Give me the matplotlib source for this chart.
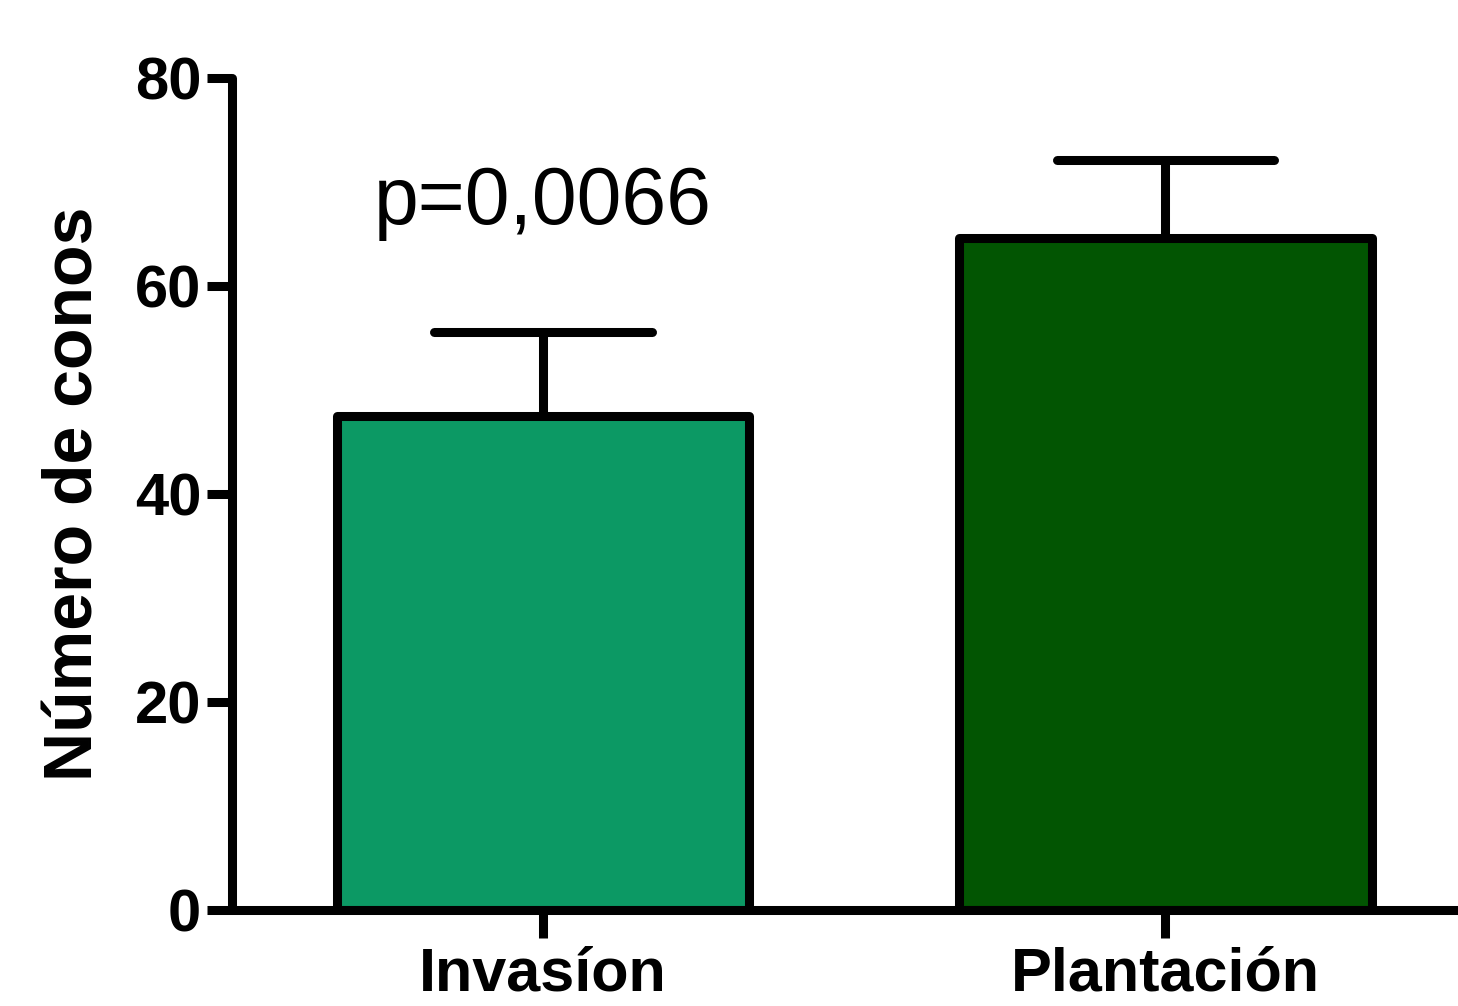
import matplotlib
matplotlib.use("Agg")
import matplotlib.pyplot as plt

# data
groups = ["Invasíon", "Plantación"]
means = [47.5, 64.6]
sem = [8.1, 7.5]
bar_colors = ["#0C9964", "#025502"]
p_text = "p=0,0066"

plt.rcParams['font.family'] = ['Liberation Sans', 'DejaVu Sans']

fig = plt.figure(figsize=(14.58, 10.06), dpi=100)
ax = fig.add_axes([0.159, 0.0954, 0.841, 0.8271])

lw = 6.5
x = list(range(len(groups)))
bar_w = 0.663
cap_half = 0.175

# upper-only error bars (Prism style)
tops = [m + e for m, e in zip(means, sem)]
ax.vlines(x, means, tops, color="black", linewidth=lw, zorder=1)
ax.hlines(tops, [xi - cap_half for xi in x], [xi + cap_half for xi in x],
          color="black", linewidth=lw, zorder=1, capstyle="round")

bars = ax.bar(x, means, width=bar_w, color=bar_colors, edgecolor="black",
              linewidth=lw, zorder=2)
for b in bars:
    b.set_joinstyle("round")

ax.text(x[0], 68, p_text, ha="center", va="center", fontsize=58)

ax.set_xlim(-0.5, 1.47)
ax.set_ylim(0, 80)
ax.set_yticks([0, 20, 40, 60, 80])
ax.set_xticks(x)
ax.set_xticklabels(groups)

for side in ["top", "right"]:
    ax.spines[side].set_visible(False)
for side in ["left", "bottom"]:
    ax.spines[side].set_linewidth(lw)
    ax.spines[side].set_capstyle("round")

ax.tick_params(axis="y", direction="out", length=18, width=lw, pad=4,
               labelsize=43)
ax.tick_params(axis="x", direction="out", length=20, width=lw, pad=6,
               labelsize=44)
for lab in ax.get_xticklabels() + ax.get_yticklabels():
    lab.set_fontweight("bold")

ax.set_ylabel("Número de conos", fontsize=49, fontweight="bold", labelpad=20)
ax.set_clip_on(False)

fig.savefig("out.png", dpi=100)
